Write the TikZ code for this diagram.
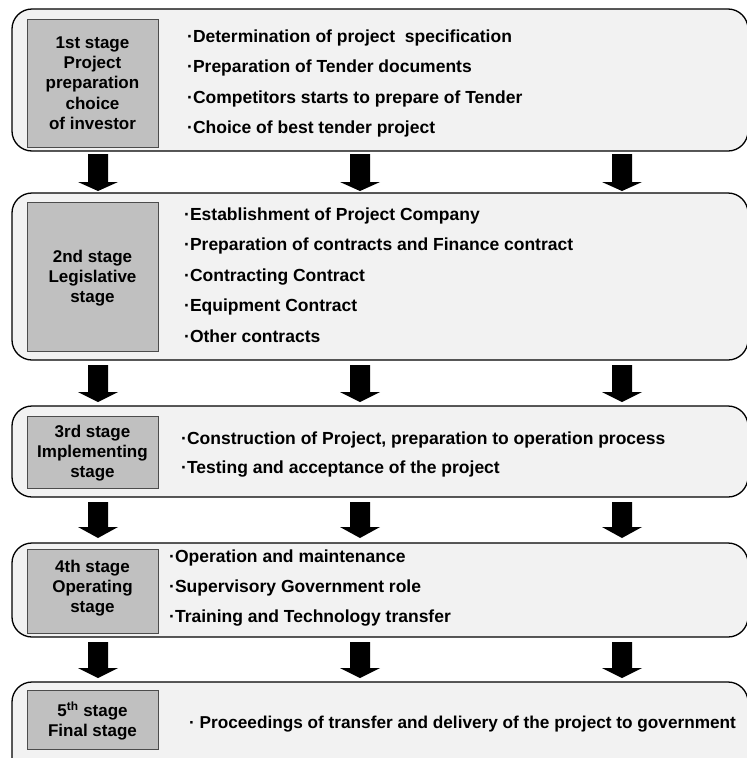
\documentclass[tikz,border=0pt]{standalone}
\usepackage{fontspec}
\setmainfont{Liberation Sans}
\begin{document}
\begin{tikzpicture}[x=1pt,y=-1pt,
  stagebox/.style={draw=black,line width=1.3pt,fill=boxbg,rounded corners=20pt},
  labelbox/.style={draw=black!70,line width=0.6pt,fill=labelgray},
  labeltext/.style={font=\fontsize{17}{20.3}\selectfont\bfseries,align=center,inner sep=0pt},
  itemtext/.style={font=\fontsize{17.5}{20}\selectfont\bfseries,anchor=base west,inner sep=0pt},
  flowarrow/.style={fill=black,draw=none}]
\definecolor{boxbg}{HTML}{F2F2F2}
\definecolor{labelgray}{HTML}{C0C0C0}
\useasboundingbox (0,0) rectangle (747,758);
\clip (0,0) rectangle (747,758);

% stage frames
\draw[stagebox] (12,9)   rectangle (748,151);
\draw[stagebox] (12,193) rectangle (748,360);
\draw[stagebox] (12,406) rectangle (748,497);
\draw[stagebox] (12,543) rectangle (748,637);
\draw[stagebox] (12,682) rectangle (748,780);

% stage labels
\draw[labelbox] (27,19)  rectangle (158,147);
\draw[labelbox] (27,202) rectangle (158,351);
\draw[labelbox] (27,416) rectangle (158,488);
\draw[labelbox] (27,549) rectangle (158,633);
\draw[labelbox] (27,690) rectangle (158,749);

\node[labeltext] (s1) at (92.5,83) {1st stage\\Project\\preparation\\choice\\of investor};
\node[labeltext] (s2) at (92.5,278) {2nd stage\\Legislative\\stage};
\node[labeltext] (s3) at (92.5,453) {3rd stage\\Implementing\\stage};
\node[labeltext] (s4) at (92.5,588) {4th stage\\Operating\\stage};
\node[labeltext] (s5) at (92.5,721) {5\textsuperscript{th} stage\\Final stage};

% stage contents
\node[itemtext] (a1) at (187,42)  {·Determination of project\ \ specification};
\node[itemtext] (a2) at (187,72)  {·Preparation of Tender documents};
\node[itemtext] (a3) at (187,103) {·Competitors starts to prepare of Tender};
\node[itemtext] (a4) at (187,133) {·Choice of best tender project};

\node[itemtext] (b1) at (184,220) {·Establishment of Project Company};
\node[itemtext] (b2) at (184,250) {·Preparation of contracts and Finance contract};
\node[itemtext] (b3) at (184,281) {·Contracting Contract};
\node[itemtext] (b4) at (184,311) {·Equipment Contract};
\node[itemtext] (b5) at (184,342) {·Other contracts};

\node[itemtext] (c1) at (181,444) {·Construction of Project, preparation to operation process};
\node[itemtext] (c2) at (181,473) {·Testing and acceptance of the project};

\node[itemtext] (d1) at (169,562) {·Operation and maintenance};
\node[itemtext] (d2) at (169,592) {·Supervisory Government role};
\node[itemtext] (d3) at (169,622) {·Training and Technology transfer};

\node[itemtext,font=\fontsize{17.2}{20}\selectfont\bfseries] (e1) at (189,728)
  {· Proceedings of transfer and delivery of the project to government};

% block arrows between stages
\foreach \top/\base/\tip in {154/182/191, 365/392/402, 502/527/538, 642/668/678}{
  \foreach \cx in {98,360,622}{
    \fill[flowarrow] (\cx-10,\top) -- (\cx+10,\top) -- (\cx+10,\base) -- (\cx+20,\base)
      -- (\cx,\tip) -- (\cx-20,\base) -- (\cx-10,\base) -- cycle;
  }
}
\end{tikzpicture}
\end{document}
